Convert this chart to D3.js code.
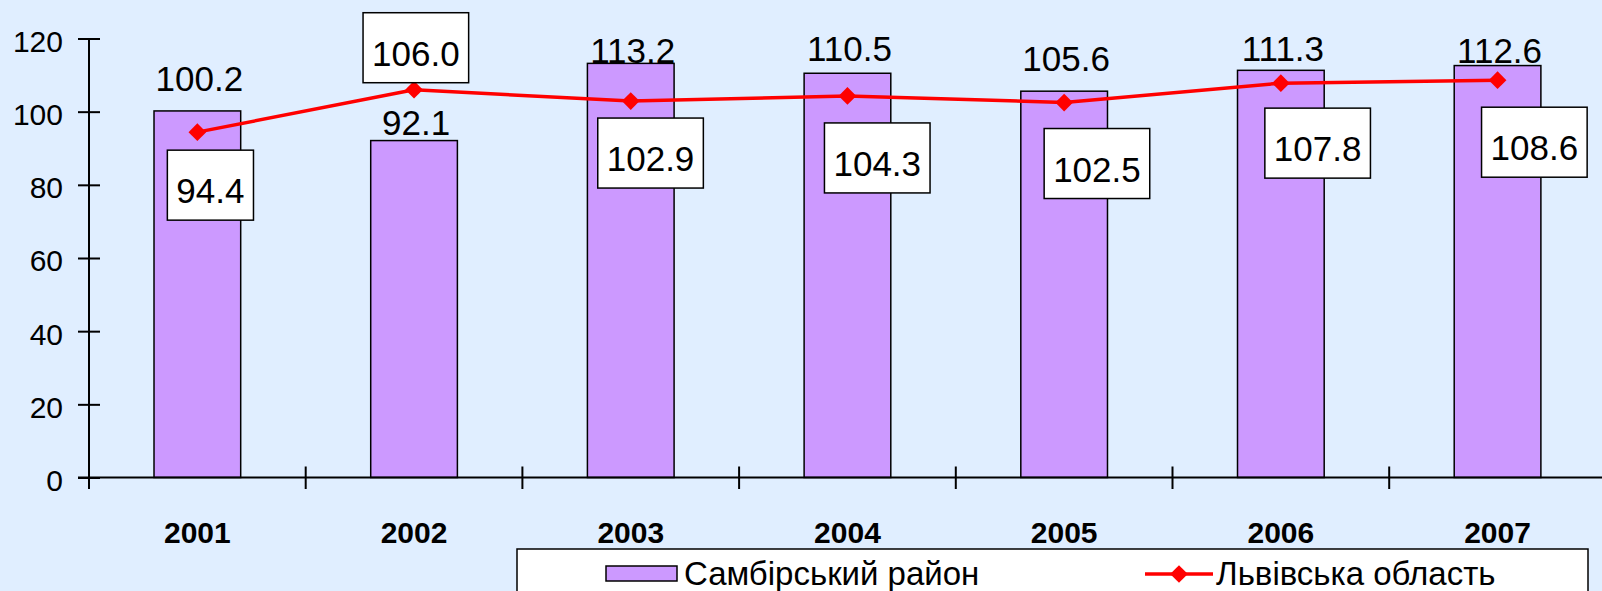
<!DOCTYPE html>
<html>
<head>
<meta charset="utf-8">
<script src="https://cdn.jsdelivr.net/npm/d3@7"></script>
<style>
  html, body { margin: 0; padding: 0; background: #e0eeff; overflow: hidden; }
  svg { display: block; font-family: "Liberation Sans", Arial, sans-serif; }
</style>
</head>
<body>
<script>
// data
var years = ["2001", "2002", "2003", "2004", "2005", "2006", "2007"];
var sambirValues = [100.2, 92.1, 113.2, 110.5, 105.6, 111.3, 112.6];
var lvivValues = [94.4, 106.0, 102.9, 104.3, 102.5, 107.8, 108.6];
var yTicks = [0, 20, 40, 60, 80, 100, 120];
var seriesNames = ["Самбірський район", "Львівська область"];

// hand placed label nudges (like in the original spreadsheet)
var barLabelDy = [-20, -6, 0, -12, -20, -9, -3];
var boxOffsets = [[-30, 18], [-51, -77], [-33, 17], [-23, 27], [-20, 26], [-16, 25], [-16, 27]];

var svg_width = 1602, svg_height = 591;
var svg = d3.select("body").append("svg").attr("width", svg_width).attr("height", svg_height);

svg.append("rect").attr("width", svg_width).attr("height", svg_height).attr("fill", "#e0eeff");

var axisX = 89, step = 216.7;
var x = d3.scaleBand().domain(years).range([axisX, axisX + step * years.length]).paddingInner(0.6).paddingOuter(0.3);
var y = d3.scaleLinear().domain([0, 120]).range([477.5, 38.5]);

// bars
svg.selectAll(".bar")
    .data(sambirValues)
  .enter().append("rect")
    .attr("class", "bar")
    .attr("x", function(d, i) { return x(years[i]); })
    .attr("y", function(d) { return y(d); })
    .attr("width", x.bandwidth())
    .attr("height", function(d) { return y(0) - y(d); })
    .attr("fill", "#cc99ff")
    .attr("stroke", "#000")
    .attr("stroke-width", 1.5);

// y axis
var yAxis = svg.append("g")
    .attr("transform", "translate(" + axisX + ",0)")
    .call(d3.axisLeft(y).tickValues(yTicks).tickSize(11).tickSizeOuter(0).tickPadding(15));
yAxis.select(".domain").remove();
yAxis.selectAll(".tick line").attr("x1", 11).attr("stroke", "#000").attr("stroke-width", 2);
yAxis.selectAll(".tick text")
    .attr("dy", "0.43em")
    .style("font-size", "30px")
    .style("font-family", "Liberation Sans, Arial, sans-serif")
    .attr("fill", "#000");
yAxis.append("line")
    .attr("x1", 0).attr("x2", 0)
    .attr("y1", y(120)).attr("y2", y(0) + 11.5)
    .attr("stroke", "#000").attr("stroke-width", 2);

// x axis
svg.append("line")
    .attr("x1", 78).attr("x2", svg_width)
    .attr("y1", y(0)).attr("y2", y(0))
    .attr("stroke", "#000").attr("stroke-width", 2);
svg.selectAll(".xtick")
    .data(years.slice(1))
  .enter().append("line")
    .attr("class", "xtick")
    .attr("x1", function(d) { return x(d) - x.step() * x.paddingOuter(); })
    .attr("x2", function(d) { return x(d) - x.step() * x.paddingOuter(); })
    .attr("y1", y(0) - 11).attr("y2", y(0) + 11.5)
    .attr("stroke", "#000").attr("stroke-width", 2);

var xAxis = svg.append("g")
    .attr("transform", "translate(0," + y(0) + ")")
    .call(d3.axisBottom(x).tickSize(0).tickPadding(44));
xAxis.select(".domain").remove();
xAxis.selectAll(".tick text")
    .style("font-size", "30px")
    .style("font-weight", "bold")
    .style("font-family", "Liberation Sans, Arial, sans-serif")
    .attr("fill", "#000");

// bar value labels
svg.selectAll(".barlabel")
    .data(sambirValues)
  .enter().append("text")
    .attr("class", "barlabel")
    .attr("x", function(d, i) { return x(years[i]) + x.bandwidth() / 2 + 2; })
    .attr("y", function(d, i) { return y(d) + barLabelDy[i]; })
    .attr("text-anchor", "middle")
    .style("font-size", "35px")
    .text(function(d) { return d.toFixed(1); });

// line
var cx = function(i) { return x(years[i]) + x.bandwidth() / 2; };
var line = d3.line()
    .x(function(d, i) { return cx(i); })
    .y(function(d) { return y(d); });

svg.append("path")
    .datum(lvivValues)
    .attr("fill", "none")
    .attr("stroke", "#ff0000")
    .attr("stroke-width", 3.5)
    .attr("stroke-linejoin", "round")
    .attr("d", line);

var diamond = d3.symbol().type(d3.symbolDiamond2).size(200);
svg.selectAll(".marker")
    .data(lvivValues)
  .enter().append("path")
    .attr("class", "marker")
    .attr("transform", function(d, i) { return "translate(" + cx(i) + "," + y(d) + ")"; })
    .attr("d", diamond)
    .attr("fill", "#ff0000");

// boxed line labels
var boxes = svg.selectAll(".linelabel")
    .data(lvivValues)
  .enter().append("g")
    .attr("class", "linelabel")
    .attr("transform", function(d, i) {
        return "translate(" + (cx(i) + boxOffsets[i][0]) + "," + (y(d) + boxOffsets[i][1]) + ")";
    });

boxes.append("rect").attr("fill", "#fff").attr("stroke", "#000").attr("stroke-width", 1.5);
boxes.append("text")
    .style("font-size", "35px")
    .attr("y", 53)
    .text(function(d) { return d.toFixed(1); });
boxes.each(function() {
    var g = d3.select(this);
    var w = g.select("text").node().getComputedTextLength() + 18;
    g.select("rect").attr("width", w).attr("height", 70);
    g.select("text").attr("x", w / 2).attr("text-anchor", "middle");
});

// legend
var legend = svg.append("g");
legend.append("rect")
    .attr("x", 517).attr("y", 549)
    .attr("width", 1071).attr("height", 60)
    .attr("fill", "#fff").attr("stroke", "#000").attr("stroke-width", 1.5);
legend.append("rect")
    .attr("x", 606).attr("y", 566).attr("width", 71).attr("height", 15)
    .attr("fill", "#cc99ff").attr("stroke", "#000").attr("stroke-width", 1.5);
legend.append("text")
    .attr("x", 684).attr("y", 585)
    .style("font-size", "33px")
    .text(seriesNames[0]);
legend.append("line")
    .attr("x1", 1145).attr("x2", 1213).attr("y1", 574).attr("y2", 574)
    .attr("stroke", "#ff0000").attr("stroke-width", 3.5);
legend.append("path")
    .attr("transform", "translate(1179,574)")
    .attr("d", diamond)
    .attr("fill", "#ff0000");
legend.append("text")
    .attr("x", 1216).attr("y", 585)
    .style("font-size", "33px")
    .text(seriesNames[1]);
</script>
</body>
</html>
